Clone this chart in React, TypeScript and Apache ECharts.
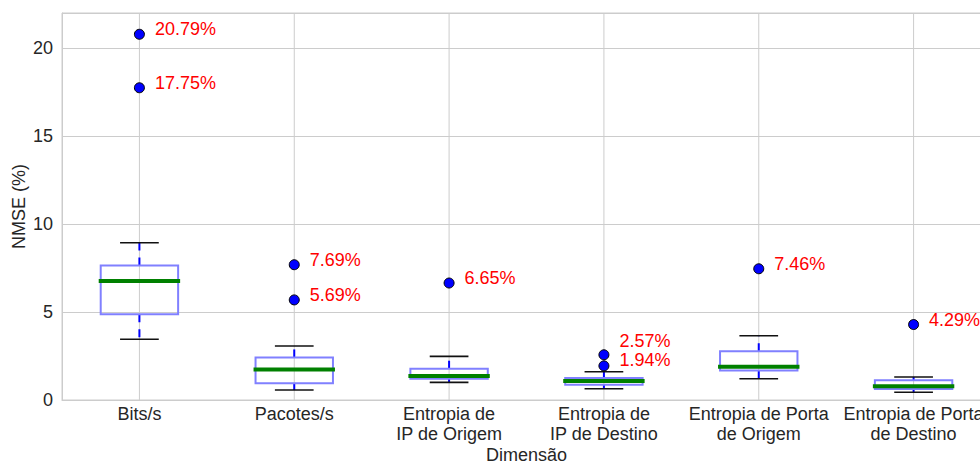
import { useEffect, useRef } from "react";
import * as echarts from "echarts";

// Dimensions on the x axis
const categories = [
  "Bits/s",
  "Pacotes/s",
  "Entropia de\nIP de Origem",
  "Entropia de\nIP de Destino",
  "Entropia de Porta\nde Origem",
  "Entropia de Porta\nde Destino",
];

// Five-number summaries of NMSE (%) per dimension
const whiskerLow = [3.45, 0.57, 1.0, 0.64, 1.21, 0.44];
const quartile1 = [4.87, 0.95, 1.21, 0.87, 1.67, 0.63];
const medians = [6.76, 1.74, 1.36, 1.08, 1.89, 0.78];
const quartile3 = [7.65, 2.42, 1.78, 1.25, 2.77, 1.12];
const whiskerHigh = [8.94, 3.07, 2.48, 1.61, 3.65, 1.31];

// Outliers: dimension index and value
const outlierCategory = [0, 0, 1, 1, 2, 3, 3, 4, 5];
const outlierValue = [20.79, 17.75, 7.69, 5.69, 6.65, 2.57, 1.94, 7.46, 4.29];

// Vertical nudge of each outlier label (px)
const outlierLabelShift = [-5, -5, -5, -5, -5, -14, -6, -5, -5];

const FONT = "Liberation Sans, Arial, sans-serif";
const TEXT = "#262626";
const GRID = "#cccccc";

export default function App() {
  const ref = useRef<HTMLDivElement>(null);

  useEffect(() => {
    if (!ref.current) return;
    const chart = echarts.init(ref.current, undefined, { renderer: "svg" });

    const boxData = categories.map((_, i) => [
      i,
      whiskerLow[i],
      quartile1[i],
      medians[i],
      quartile3[i],
      whiskerHigh[i],
    ]);

    const outlierData = outlierValue.map((v, k) => ({
      value: [outlierCategory[k], v],
      label: { offset: [0, outlierLabelShift[k]] },
    }));

    chart.setOption({
      animation: false,
      backgroundColor: "#ffffff",
      textStyle: { fontFamily: FONT },
      grid: {
        left: 62,
        top: 13,
        right: -11,
        bottom: 62,
        show: true,
        borderColor: GRID,
        borderWidth: 1,
        outerBoundsMode: "none",
      },
      xAxis: {
        type: "category",
        data: categories,
        name: "Dimensão",
        nameLocation: "middle",
        nameGap: 46,
        nameMoveOverlap: false,
        nameTextStyle: { fontSize: 18, color: TEXT, fontFamily: FONT },
        axisLine: { show: true, lineStyle: { color: GRID, width: 1 } },
        axisTick: { show: false },
        splitLine: { show: false },
        axisLabel: {
          interval: 0,
          fontSize: 18,
          color: TEXT,
          lineHeight: 20,
          margin: 4,
          fontFamily: FONT,
        },
      },
      yAxis: {
        type: "value",
        min: 0,
        max: 22,
        interval: 5,
        name: "NMSE (%)",
        nameLocation: "middle",
        nameGap: 34,
        nameMoveOverlap: false,
        nameTextStyle: { fontSize: 18, color: TEXT, fontFamily: FONT },
        axisLine: { show: true, lineStyle: { color: GRID, width: 1 } },
        axisTick: { show: false },
        splitLine: { show: true, lineStyle: { color: GRID, width: 1 } },
        axisLabel: {
          fontSize: 18,
          color: TEXT,
          margin: 9,
          showMaxLabel: false,
          fontFamily: FONT,
        },
      },
      series: [
        {
          // vertical grid lines through each category centre
          type: "custom",
          z: 1,
          silent: true,
          data: categories.map((_, i) => [i]),
          encode: { x: 0 },
          renderItem: (params: any, api: any) => {
            const x = api.coord([api.value(0), 0])[0];
            const cs = params.coordSys;
            return {
              type: "line",
              shape: { x1: x, y1: cs.y, x2: x, y2: cs.y + cs.height },
              style: { stroke: GRID, lineWidth: 1 },
            };
          },
        },
        {
          type: "custom",
          z: 2,
          data: boxData,
          encode: { x: 0, y: [1, 2, 3, 4, 5] },
          renderItem: (_params: any, api: any) => {
            const i = api.value(0);
            const x = api.coord([i, 0])[0];
            const yLo = api.coord([i, api.value(1)])[1];
            const yQ1 = api.coord([i, api.value(2)])[1];
            const yMed = api.coord([i, api.value(3)])[1];
            const yQ3 = api.coord([i, api.value(4)])[1];
            const yHi = api.coord([i, api.value(5)])[1];
            const band = api.size([1, 0])[0];
            const half = band * 0.25;
            const cap = band * 0.125;
            const whisker = { stroke: "#0000ff", lineWidth: 2, lineDash: [8, 7] };
            const capStyle = { stroke: "#111111", lineWidth: 1.6 };
            return {
              type: "group",
              children: [
                { type: "line", shape: { x1: x, y1: yQ3, x2: x, y2: yHi }, style: whisker },
                { type: "line", shape: { x1: x, y1: yQ1, x2: x, y2: yLo }, style: whisker },
                { type: "line", shape: { x1: x - cap, y1: yHi, x2: x + cap, y2: yHi }, style: capStyle },
                { type: "line", shape: { x1: x - cap, y1: yLo, x2: x + cap, y2: yLo }, style: capStyle },
                {
                  type: "rect",
                  shape: { x: x - half, y: yQ3, width: half * 2, height: yQ1 - yQ3 },
                  style: { fill: "rgba(255,255,255,0)", stroke: "#8080ff", lineWidth: 2 },
                },
                {
                  type: "line",
                  shape: { x1: x - half - 2, y1: yMed, x2: x + half + 2, y2: yMed },
                  style: { stroke: "#008000", lineWidth: 4 },
                },
              ],
            };
          },
        },
        {
          type: "scatter",
          z: 3,
          data: outlierData,
          symbol: "circle",
          symbolSize: 10,
          itemStyle: { color: "#0000ff", borderColor: "#000000", borderWidth: 1, opacity: 1 },
          label: {
            show: true,
            position: "right",
            distance: 10,
            color: "#ff0000",
            fontSize: 18,
            fontFamily: FONT,
            formatter: (p: any) => `${p.value[1].toFixed(2)}%`,
          },
        },
      ],
    });

    return () => chart.dispose();
  }, []);

  return (
    <div
      ref={ref}
      style={{ position: "fixed", left: 0, top: 0, width: 980, height: 462 }}
    />
  );
}
